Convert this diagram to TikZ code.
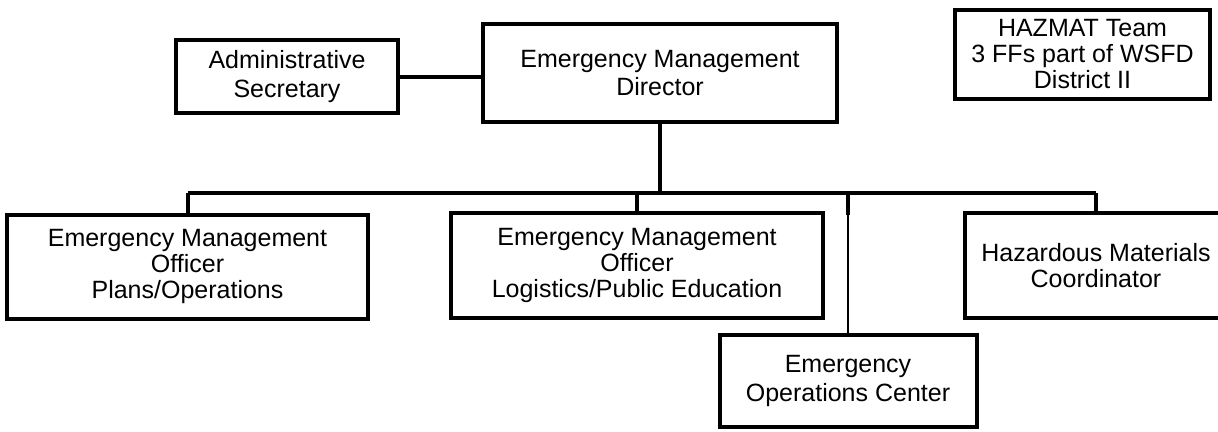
\documentclass[tikz,border=0pt]{standalone}
\usepackage{fontspec}
\setmainfont{Liberation Sans}
\begin{document}
\begin{tikzpicture}[x=1pt,y=-1pt,
  box/.style={draw=black, line width=4pt, fill=white, align=center, inner sep=0pt,
    font=\fontsize{25}{26}\selectfont},
  widebox/.style={box, font=\fontsize{25}{28.5}\selectfont},
  conn/.style={draw=black, line width=4pt},
  thinconn/.style={draw=black, line width=1.5pt}]
\useasboundingbox[fill=white] (0,0) rectangle (1218,431);
\node[widebox, minimum width=222pt, minimum height=73pt] (admin) at (287,76.5) {Administrative\\Secretary};
\node[widebox, minimum width=354pt, minimum height=98pt] (dir) at (660,73) {Emergency Management\\Director};
\node[box, minimum width=255pt, minimum height=89pt] (hazmat) at (1082.5,54.5) {HAZMAT Team\\3 FFs part of WSFD\\District II};
\node[box, minimum width=361pt, minimum height=104pt] (emo1) at (187.5,266.5) {Emergency Management\\Officer\\Plans/Operations};
\node[box, minimum width=372pt, minimum height=105pt] (emo2) at (637,265.5) {Emergency Management\\Officer\\Logistics/Public Education};
\node[widebox, minimum width=257pt, minimum height=92pt] (eoc) at (848,381) {Emergency\\Operations Center};
\node[box, minimum width=262pt, minimum height=105pt] (hmc) at (1096,265.5) {Hazardous Materials\\Coordinator};
\coordinate (bus) at (0,193);
\coordinate (stub) at (848,215);
\draw[conn] (admin.east) -- (admin.east -| dir.west);
\draw[conn] (dir.south) -- (dir.south |- bus);
\draw[conn] (emo1.north |- bus) -- (hmc.north |- bus);
\draw[conn] (emo1.north |- bus) -- (emo1.north);
\draw[conn] (emo2.north |- bus) -- (emo2.north);
\draw[conn] (hmc.north |- bus) -- (hmc.north);
\draw[conn] (stub |- bus) -- (stub);
\draw[thinconn] (stub) -- (eoc.north);
\end{tikzpicture}
\end{document}
